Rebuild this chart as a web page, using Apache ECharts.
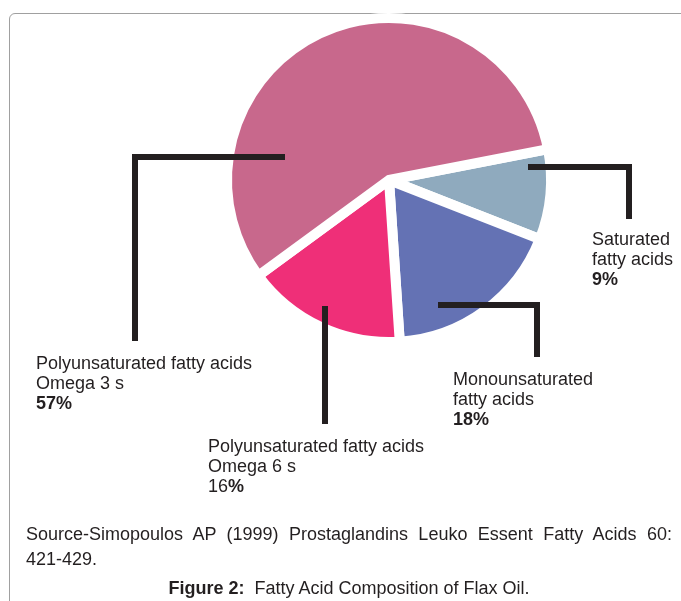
<!DOCTYPE html>
<html>
<head>
<meta charset="utf-8">
<script src="https://cdn.jsdelivr.net/npm/echarts@6/dist/echarts.min.js"></script>
<style>
    html, body { margin: 0; padding: 0; background: #fff; }
    #wrap { position: relative; width: 681px; height: 601px; overflow: hidden; font-family: 'Liberation Sans', Arial, sans-serif; color: #231f20; }
    #frame { position: absolute; left: 9px; top: 13px; right: -10px; bottom: -10px; border: 1px solid #a0a0a0; border-radius: 6px; }
    #chart { position: absolute; left: 0; top: 0; width: 681px; height: 601px; }
    #source { position: absolute; left: 26px; top: 522px; width: 646px; font-size: 18px; line-height: 25px; text-align: justify; }
    #figcap { position: absolute; left: 26px; top: 577px; width: 646px; font-size: 18px; line-height: 22px; text-align: center; }
    .nw { white-space: nowrap; }
</style>
</head>
<body>
<div id="wrap">
    <div id="frame"></div>
    <div id="chart"></div>
    <div id="source">Source-Simopoulos AP (1999) Prostaglandins Leuko Essent Fatty Acids 60: <span class="nw">421-429.</span></div>
    <div id="figcap"><b>Figure 2:</b>&nbsp; Fatty Acid Composition of Flax Oil.</div>
</div>
<script>
// data
const categories = ['Saturated\nfatty acids', 'Monounsaturated\nfatty acids', 'Polyunsaturated fatty acids\nOmega 6 s', 'Polyunsaturated fatty acids\nOmega 3 s']
const values = [9, 18, 16, 57]

// styles / layout
const colors = ['#8faabe', '#6472b4', '#ef2f78', '#c8688c']
const boldNumber = [true, true, false, true] // "16" is not bold in the original, only the %
const labelPos = [[592, 230], [453, 370], [208, 437], [36, 354]]
const leaderPts = [
    [[528, 167], [629, 167], [629, 219]],
    [[438, 305], [537, 305], [537, 357]],
    [[325, 306], [325, 365], [325, 424]],
    [[285, 157], [135, 157], [135, 341]]
]

let myChart = echarts.init(document.getElementById('chart'))

let pieData = categories.map((name, i) => ({
    name: name,
    value: values[i],
    itemStyle: { color: colors[i] }
}))

// same slices again, invisible, only to carry labels + leader lines above the pie
let labelData = categories.map((name, i) => ({
    name: name,
    value: values[i]
}))

let option = {
    animation: false,
    textStyle: { fontFamily: "'Liberation Sans', Arial, sans-serif" },
    series: [{
        type: 'pie',
        z: 2,
        center: [389, 180],
        radius: 162,
        startAngle: 11,
        clockwise: true,
        data: pieData,
        silent: true,
        emphasis: { disabled: true },
        itemStyle: {
            borderColor: '#fff',
            borderWidth: 10
        },
        label: { show: false },
        labelLine: { show: false }
    }, {
        type: 'pie',
        z: 10,
        center: [389, 180],
        radius: 162,
        startAngle: 11,
        clockwise: true,
        data: labelData,
        silent: true,
        emphasis: { disabled: true },
        itemStyle: { color: 'rgba(0,0,0,0)', borderWidth: 0 },
        label: {
            show: true,
            position: 'outside',
            overflow: 'none',
            color: '#231f20',
            fontSize: 18,
            lineHeight: 20,
            align: 'left',
            formatter: function(p) {
                let num = boldNumber[p.dataIndex] ? '{b|' + p.value + '}' : '{n|' + p.value + '}'
                return '{n|' + p.name.split('\n').join('}\n{n|') + '}\n' + num + '{b|%}'
            },
            rich: {
                n: { fontSize: 18, lineHeight: 20, color: '#231f20' },
                b: { fontSize: 18, lineHeight: 20, color: '#231f20', fontWeight: 'bold' }
            }
        },
        labelLine: {
            show: true,
            smooth: false,
            lineStyle: { color: '#231f20', width: 6, cap: 'butt', join: 'miter' }
        },
        labelLayout: function(params) {
            let i = params.dataIndex
            return {
                x: labelPos[i][0],
                y: labelPos[i][1],
                align: 'left',
                verticalAlign: 'top',
                labelLinePoints: leaderPts[i]
            }
        }
    }]
}

option && myChart.setOption(option)
</script>
</body>
</html>
